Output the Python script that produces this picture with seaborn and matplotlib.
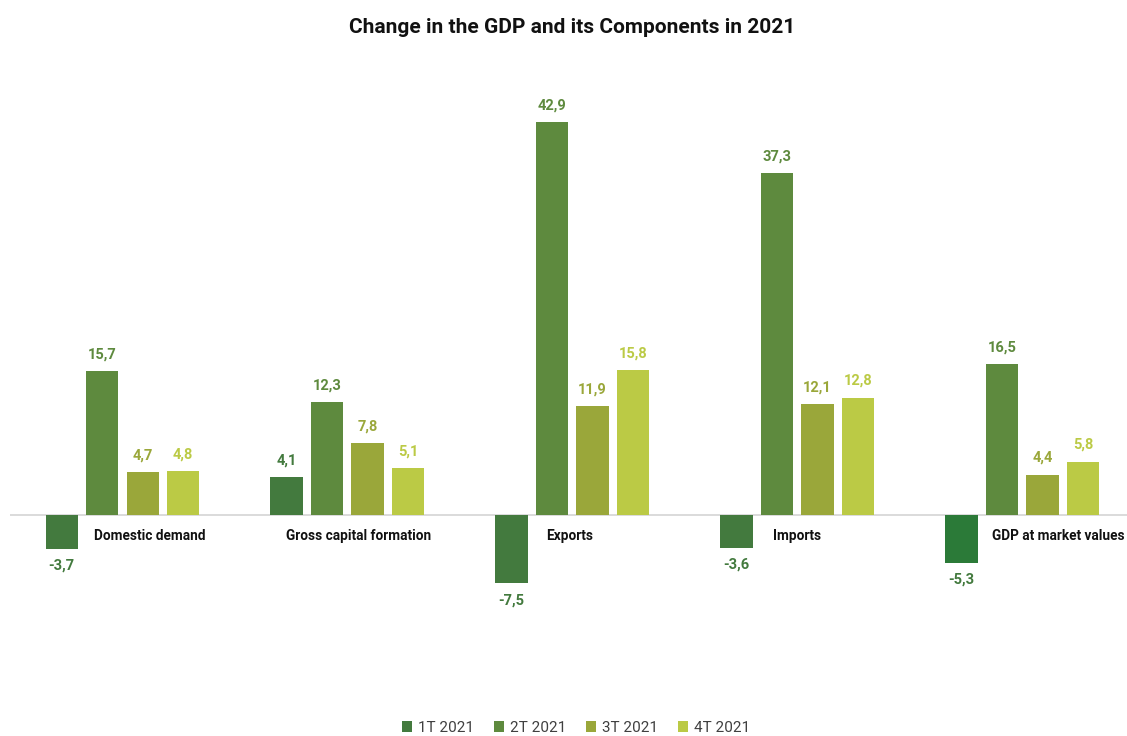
import numpy as np
import pandas as pd
import matplotlib
matplotlib.use("Agg")
import matplotlib.pyplot as plt
import seaborn as sns

categories = ["Domestic demand", "Gross capital formation", "Exports", "Imports", "GDP at market values"]
quarters = ["1T 2021", "2T 2021", "3T 2021", "4T 2021"]
q1 = [-3.7, 4.1, -7.5, -3.6, -5.3]
q2 = [15.7, 12.3, 42.9, 37.3, 16.5]
q3 = [4.7, 7.8, 11.9, 12.1, 4.4]
q4 = [4.8, 5.1, 15.8, 12.8, 5.8]
colors = ["#437A3E", "#5E8A3E", "#9AA73A", "#BBCA45"]
label_offsets = [0.12, 0.05, -0.01, 0.0, 0.16]

sns.set_theme(style="white")
plt.rcParams["font.family"] = ["Roboto", "DejaVu Sans"]

rows = []
for series, q in zip([q1, q2, q3, q4], quarters):
    for c, v in zip(categories, series):
        rows.append({"category": c, "quarter": q, "value": v})
df = pd.DataFrame(rows)

fig = plt.figure(figsize=(11.27, 7.36), dpi=100)
ax = fig.add_axes([10 / 1127, 0.114, 0.998, 0.8084])
sns.barplot(data=df, x="category", y="value", hue="quarter", palette=colors,
            width=0.72, gap=0.2, ax=ax, legend=True, saturation=1, linewidth=0)

ax.set_xlim(-0.5, 4.5)
ax.set_ylim(-15, 50)
ax.axhline(0, color="#D4D4D4", lw=1.2, zorder=0)
for s in ax.spines.values():
    s.set_visible(False)
ax.set_xticks([])
ax.set_yticks([])
ax.set_xlabel("")
ax.set_ylabel("")

# value labels
for cont, col in zip(ax.containers, colors):
    for bar in cont:
        v = bar.get_height()
        xc = bar.get_x() + bar.get_width() / 2
        off = 12 if v >= 0 else -12
        ax.annotate(f"{v:.1f}".replace(".", ","), (xc, v), xytext=(0, off),
                    textcoords="offset points", ha="center", va="center",
                    fontsize=10.5, fontweight="bold", color=col)

# GDP 1T bar has a brighter green in the reference
ax.containers[0][4].set_facecolor("#2B7A38")

# category labels below zero line
for i, (c, o) in enumerate(zip(categories, label_offsets)):
    ax.annotate(c, (i + o, 0), xytext=(0, -15), textcoords="offset points",
                ha="center", va="center", fontsize=9.8, fontweight="bold",
                color="#111111")

fig.suptitle("Change in the GDP and its Components in 2021", x=0.508, y=0.975,
             fontsize=15, fontweight="bold", color="#111111")

handles, labels = ax.get_legend_handles_labels()
ax.legend(handles, labels, loc="center", bbox_to_anchor=(0.511, 0.011),
          bbox_transform=fig.transFigure, ncol=4, frameon=False,
          handlelength=0.65, handleheight=0.65, handletextpad=0.4,
          columnspacing=1.3, fontsize=11, labelcolor="#404040")

fig.savefig("out.png", dpi=100)
